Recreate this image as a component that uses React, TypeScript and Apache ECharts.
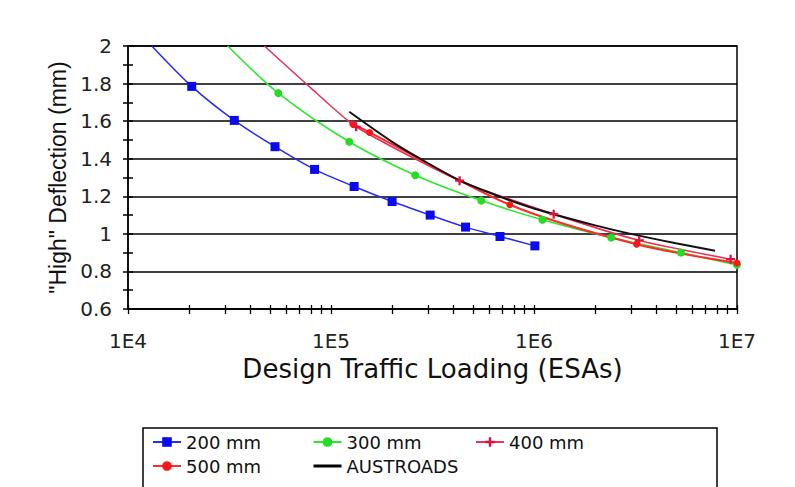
import React, { useEffect, useRef } from "react";
import * as echarts from "echarts";

// ---- data ----
const s200X = [1.31e4, 2.06e4, 3.34e4, 5.3e4, 8.3e4, 1.3e5, 2.0e5, 3.08e5, 4.6e5, 6.8e5, 1.01e6];
const s200Y = [2.0, 1.785, 1.604, 1.464, 1.343, 1.252, 1.172, 1.1, 1.036, 0.986, 0.936];
const s200Mark = [0, 1, 1, 1, 1, 1, 1, 1, 1, 1, 1];

const s300X = [3.1e4, 5.5e4, 1.23e5, 2.6e5, 5.5e5, 1.1e6, 2.4e6, 5.3e6, 1e7];
const s300Y = [2.0, 1.749, 1.49, 1.312, 1.177, 1.075, 0.98, 0.9, 0.835];
const s300Mark = [0, 1, 1, 1, 1, 1, 1, 1, 1];

const s400X = [4.7e4, 7.8e4, 1.33e5, 4.3e5, 1.25e6, 3.3e6, 9.3e6];
const s400Y = [2.0, 1.785, 1.57, 1.283, 1.105, 0.965, 0.865];
const s400Mark = [0, 0, 1, 1, 1, 1, 1];

const s500X = [1.28e5, 1.55e5, 7.6e5, 3.2e6, 1e7];
const s500Y = [1.585, 1.54, 1.155, 0.945, 0.845];
const s500Mark = [1, 1, 1, 1, 1];

const ausX = [1.23e5, 2e5, 2.75e5, 4.2e5, 6e5, 1e6, 2e6, 3e6, 5e6, 7.8e6];
const ausY = [1.65, 1.49, 1.4, 1.29, 1.22, 1.135, 1.045, 1.0, 0.95, 0.91];

const seriesNames = ["200 mm", "300 mm", "400 mm", "500 mm", "AUSTROADS"];
const xMinorTicks = [
  2e4, 3e4, 4e4, 5e4, 6e4, 7e4, 8e4, 9e4,
  2e5, 3e5, 4e5, 5e5, 6e5, 7e5, 8e5, 9e5,
  2e6, 3e6, 4e6, 5e6, 6e6, 7e6, 8e6, 9e6,
];
const xMajorTicks = [1e4, 1e5, 1e6, 1e7];

const FONT = "DejaVu Sans";
const PLUS = "path://M3,0 h2 v3 h3 v2 h-3 v3 h-2 v-3 h-3 v-2 h3 z";

function pts(xs: number[], ys: number[], mark?: number[]) {
  return xs.map((x, i) =>
    mark && !mark[i] ? { value: [x, ys[i]], symbol: "none" } : { value: [x, ys[i]] }
  );
}

export default function App() {
  const ref = useRef<HTMLDivElement>(null);
  useEffect(() => {
    if (!ref.current) return;
    const chart = echarts.init(ref.current, undefined, { renderer: "svg" });
    const axisLineStyle = { color: "#000", width: 1.5 };
    const tickLine = { color: "#000", width: 1.3 };
    const legendCommon = {
      orient: "vertical",
      top: 432,
      padding: 0,
      itemWidth: 28,
      itemHeight: 12,
      itemGap: 4,
      textStyle: { fontFamily: FONT, fontSize: 18, color: "#111", lineHeight: 20 },
    };
    const lg = (v: number) => Math.log10(v);
    const allTicks = [...xMajorTicks, ...xMinorTicks].map(lg);
    const tickAxis = (inside: boolean, len: number) => ({
      type: "value",
      min: lg(xMajorTicks[0]),
      max: lg(xMajorTicks[xMajorTicks.length - 1]),
      position: "bottom",
      axisLine: { show: false },
      axisTick: { show: true, inside, length: len, lineStyle: tickLine, customValues: allTicks },
      axisLabel: { show: false },
      splitLine: { show: false },
    });
    chart.setOption({
      animation: false,
      backgroundColor: "#fff",
      grid: {
        left: 128,
        right: 58,
        top: 46,
        bottom: 178,
        show: true,
        borderColor: "#000",
        borderWidth: 1.5,
      },
      xAxis: [
        {
          type: "log",
          logBase: 10,
          min: 1e4,
          max: 1e7,
          position: "bottom",
          name: "Design Traffic Loading (ESAs)",
          nameLocation: "middle",
          nameGap: 45,
          nameTextStyle: { fontFamily: FONT, fontSize: 26, color: "#111" },
          axisLine: { show: true, lineStyle: axisLineStyle },
          axisTick: { show: false },
          axisLabel: {
            fontFamily: FONT,
            fontSize: 20,
            color: "#222",
            margin: 22,
            formatter: (v: number) => "1E" + Math.round(Math.log10(v)),
          },
          splitLine: { show: false },
        },
        tickAxis(true, 4),
        tickAxis(false, 5),
      ],
      yAxis: [
        {
          type: "value",
          min: 0.6,
          max: 2,
          interval: 0.2,
          position: "left",
          name: '"High" Deflection (mm)',
          nameLocation: "middle",
          nameGap: 54,
          nameTextStyle: { fontFamily: "Liberation Sans", fontSize: 23, color: "#111" },
          axisLine: { show: true, lineStyle: axisLineStyle },
          axisTick: { show: true, length: 5, lineStyle: axisLineStyle },
          minorTick: { show: true, splitNumber: 2, length: 5, lineStyle: axisLineStyle },
          axisLabel: { fontFamily: FONT, fontSize: 20, color: "#222", margin: 16 },
          splitLine: { show: true, lineStyle: { color: "#000", width: 1.5 } },
        },
        {
          type: "value",
          min: 0.6,
          max: 2,
          interval: 0.2,
          position: "left",
          axisLine: { show: false },
          axisTick: { show: true, inside: true, length: 5, lineStyle: axisLineStyle },
          minorTick: { show: true, splitNumber: 2, length: 5, lineStyle: axisLineStyle },
          axisLabel: { show: false },
          splitLine: { show: false },
        },
      ],
      legend: [
        { ...legendCommon, left: 152, data: [seriesNames[0], seriesNames[3]] },
        {
          ...legendCommon,
          left: 312,
          data: [
            seriesNames[1],
            {
              name: seriesNames[4],
              itemStyle: { opacity: 0 },
              lineStyle: { width: 3, color: "#000" },
            },
          ],
        },
        { ...legendCommon, left: 475, data: [seriesNames[2]] },
      ],
      graphic: [
        {
          type: "rect",
          shape: { x: 143, y: 428, width: 574, height: 80 },
          style: { fill: "none", stroke: "#000", lineWidth: 1.5 },
        },
      ],
      series: [
        {
          name: seriesNames[0],
          type: "line",
          smooth: 0.3,
          data: pts(s200X, s200Y, s200Mark),
          symbol: "rect",
          symbolSize: 9,
          color: "#1010f0",
          lineStyle: { width: 1.5, color: "#2a2af5" },
          itemStyle: { color: "#0a0af0" },
        },
        {
          name: seriesNames[1],
          type: "line",
          smooth: 0.3,
          data: pts(s300X, s300Y, s300Mark),
          symbol: "circle",
          symbolSize: 8,
          color: "#22e022",
          lineStyle: { width: 1.6, color: "#2be82b" },
          itemStyle: { color: "#22dd22" },
        },
        {
          name: seriesNames[2],
          type: "line",
          smooth: 0.2,
          data: pts(s400X, s400Y, s400Mark),
          symbol: PLUS,
          symbolSize: 9,
          color: "#e8204e",
          lineStyle: { width: 1.6, color: "#e8335a" },
          itemStyle: { color: "#e0103e" },
        },
        {
          name: seriesNames[3],
          type: "line",
          smooth: 0.3,
          data: pts(s500X, s500Y, s500Mark),
          symbol: "circle",
          symbolSize: 7,
          color: "#ff2020",
          lineStyle: { width: 2, color: "#ff2a2a" },
          itemStyle: { color: "#f81818" },
        },
        {
          name: seriesNames[4],
          type: "line",
          smooth: 0.3,
          data: pts(ausX, ausY),
          symbol: "none",
          color: "#000",
          lineStyle: { width: 2, color: "#111" },
        },
      ],
    });
    return () => chart.dispose();
  }, []);
  return (
    <div
      ref={ref}
      style={{ position: "fixed", left: 0, top: 0, width: 795, height: 487 }}
    />
  );
}
